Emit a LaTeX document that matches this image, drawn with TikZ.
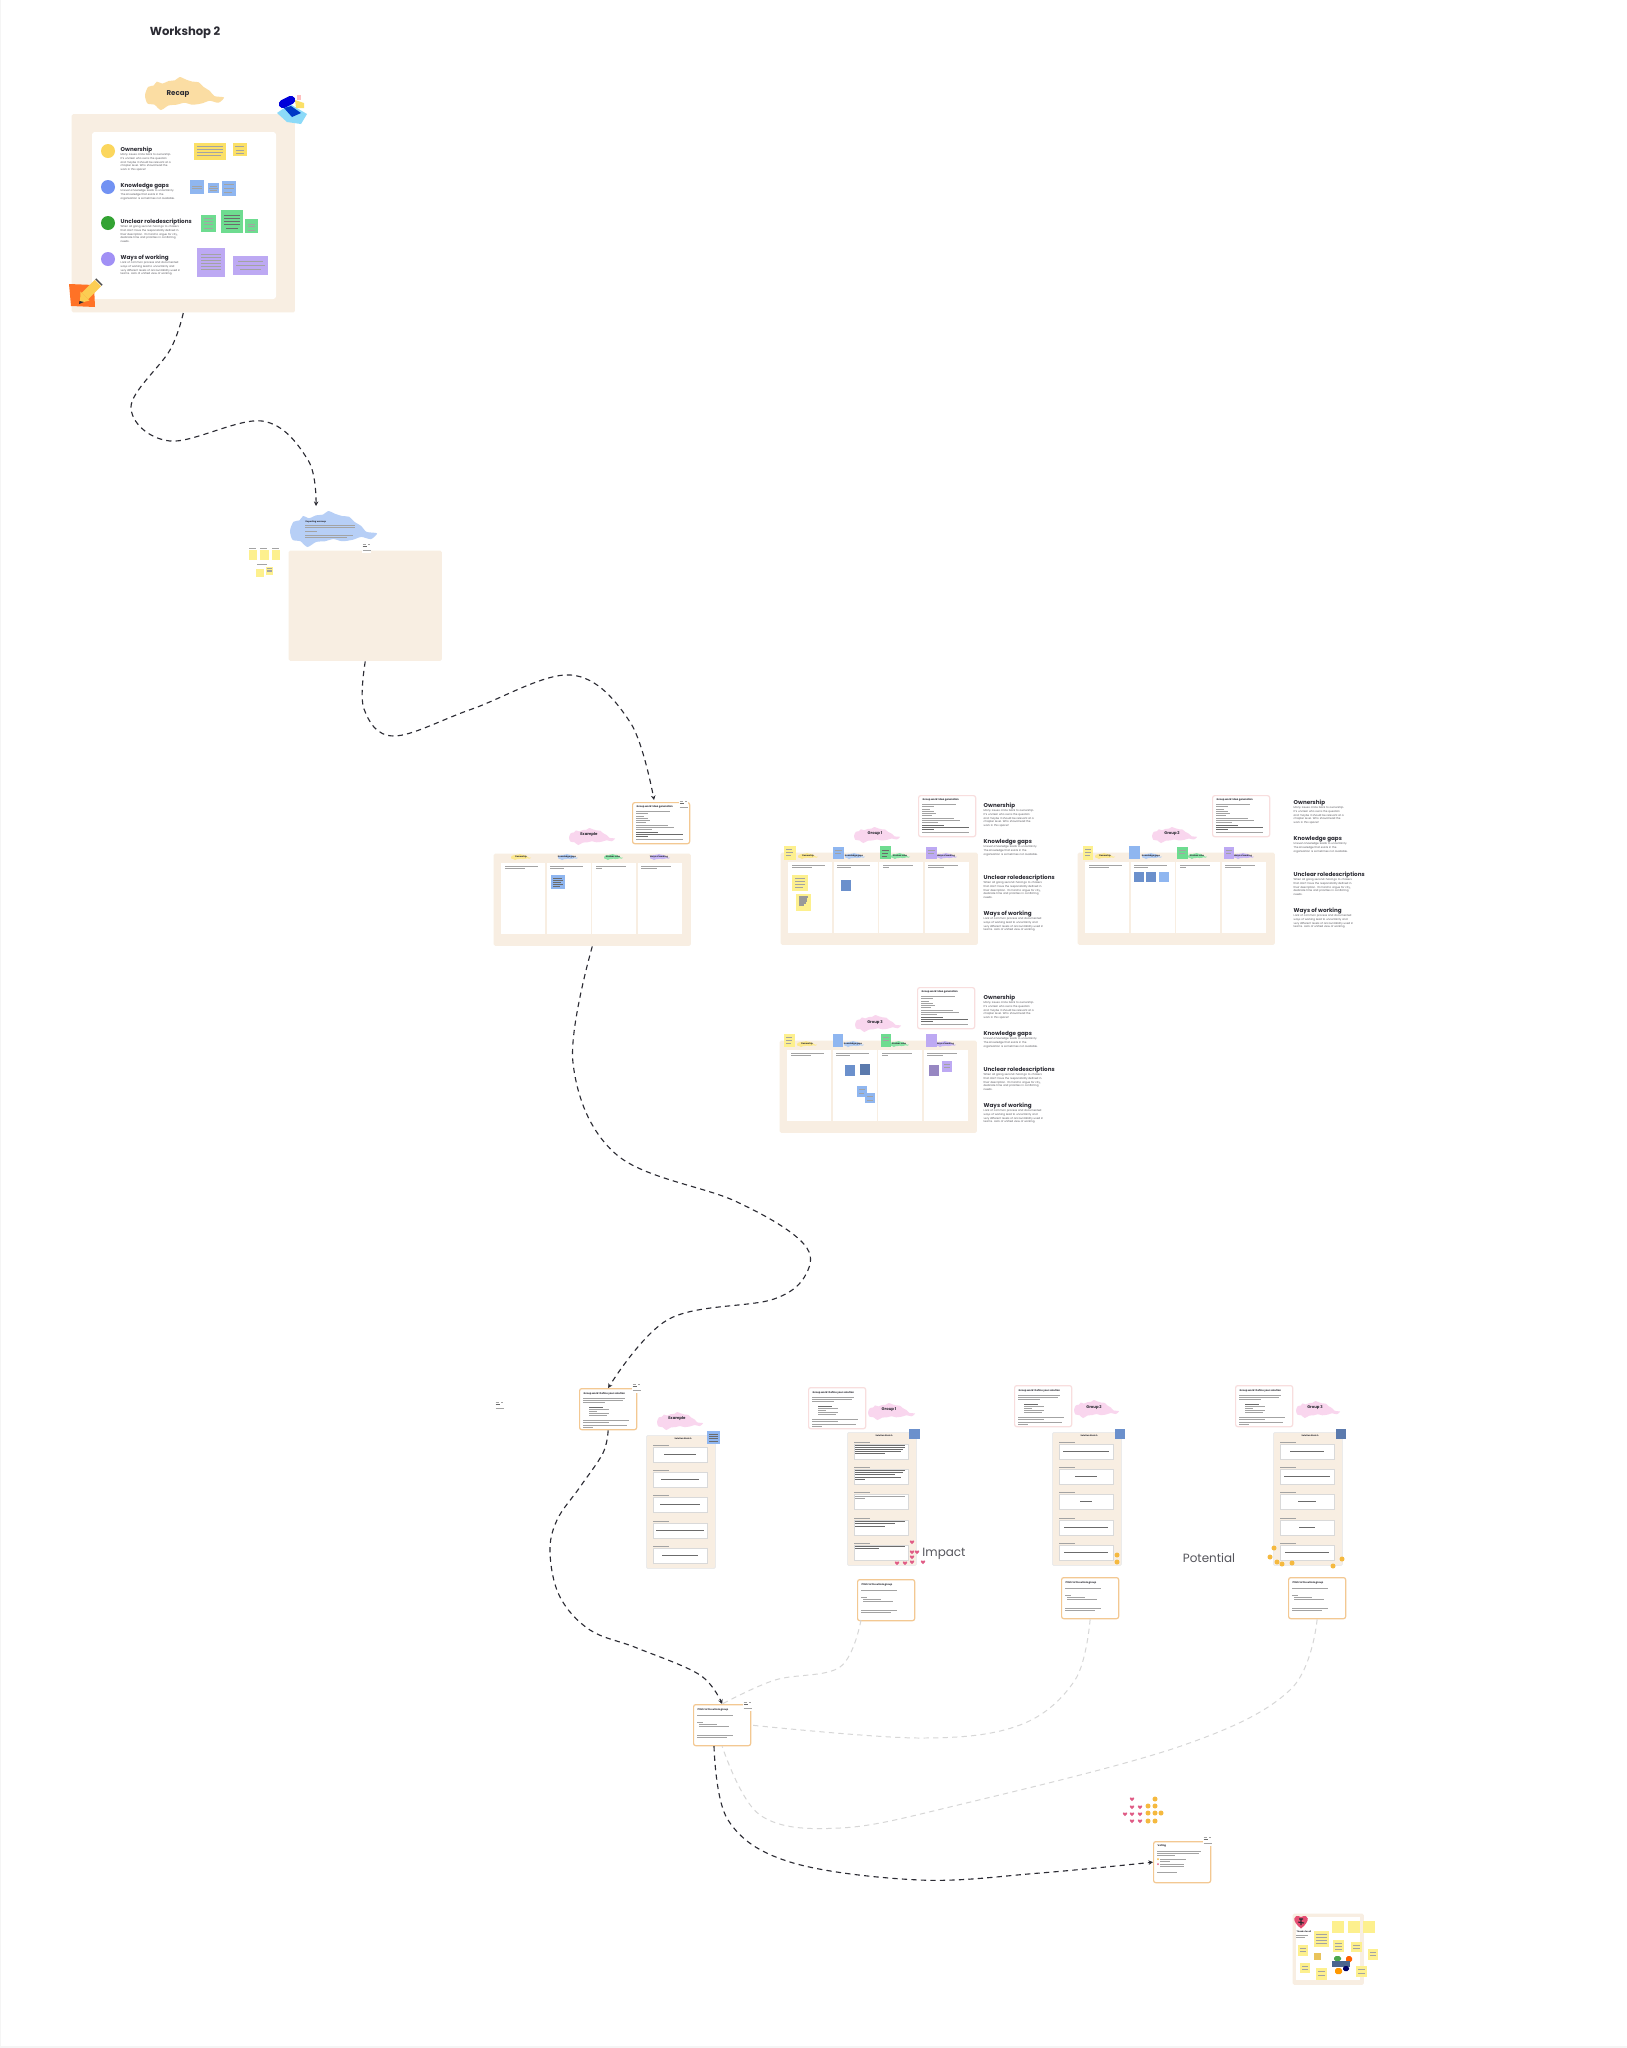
\documentclass[tikz,border=0pt]{standalone}
\usepackage{fontspec}
\setmainfont{Poppins}
\usetikzlibrary{arrows.meta}

\definecolor{framecream}{HTML}{F8EEE2}
\definecolor{recapblob}{HTML}{FBDDA3}
\definecolor{skyblob}{HTML}{B7CFF6}
\definecolor{pinkblob}{HTML}{F9D6EE}
\definecolor{inkdark}{HTML}{2B2B33}
\definecolor{inkgrey}{HTML}{55555C}
\definecolor{stickyyellow}{HTML}{FDF08E}
\definecolor{recapyellow}{HTML}{FBE067}
\definecolor{stickyblue}{HTML}{8FB6F0}
\definecolor{stickygreen}{HTML}{6EDC90}
\definecolor{stickypurple}{HTML}{BDA9F3}
\definecolor{darkblue}{HTML}{6B90CC}
\definecolor{cardorange}{HTML}{F3C892}
\definecolor{cardpink}{HTML}{F8DEDE}
\definecolor{heartred}{HTML}{E05C86}
\definecolor{stargold}{HTML}{F5B93F}

\tikzset{
	framebox/.style={anchor=north west, inner sep=0pt, fill=framecream, rounded corners=0.4pt},
	notecard/.style={anchor=north west, inner sep=0pt, fill=white, line width=0.35pt, rounded corners=0.6pt, minimum width=0.57cm, minimum height=0.41cm},
	headtext/.style={font=\bfseries\fontsize{1.6pt}{1.9pt}\selectfont, anchor=west, inner sep=0pt, text=inkdark},
	bodytext/.style={font=\fontsize{0.75pt}{1.05pt}\selectfont, anchor=north west, inner sep=0pt, text width=0.85cm, align=left, text=inkgrey},
	cardtitle/.style={font=\bfseries\fontsize{0.7pt}{0.9pt}\selectfont, anchor=west, inner sep=0pt, text=inkdark},
	blobtext/.style={font=\bfseries\fontsize{2pt}{2.4pt}\selectfont, inner sep=0pt, text=inkdark},
	labeltext/.style={font=\bfseries\fontsize{0.6pt}{0.7pt}\selectfont, inner sep=0pt, text=inkdark},
	bigword/.style={font=\fontsize{3.4pt}{4pt}\selectfont, inner sep=0pt, text=inkgrey},
	barline/.style={line width=0.2pt, color=black!36},
	boldbar/.style={line width=0.24pt, color=black!58},
	flowdash/.style={line width=0.32pt, color=inkdark, dash pattern=on 1.5pt off 1.2pt},
	paledash/.style={line width=0.28pt, color=black!16, dash pattern=on 1.5pt off 1.2pt},
	flowtip/.style={-{Stealth[length=1.3pt,width=1.3pt]}},
}

% brush shape, top left corner and size
\def\brushblob[#1](#2,#3)(#4,#5){\begin{scope}[shift={(#2,#3)},xscale=#4,yscale=#5]
	\fill[#1] plot[smooth cycle,tension=0.45] coordinates {(0,0.55) (0.04,0.3) (0.11,0.26) (0.15,0.14) (0.22,0.2) (0.3,0.12) (0.38,0.1) (0.44,0) (0.52,0.08) (0.6,0.14) (0.68,0.16) (0.74,0.3) (0.82,0.42) (0.88,0.58) (1,0.62) (0.93,0.78) (0.82,0.72) (0.72,0.8) (0.6,0.84) (0.5,0.78) (0.4,0.84) (0.3,0.86) (0.2,1) (0.12,0.84) (0.03,0.8)};
	\end{scope}}

\def\sticky[#1](#2,#3)(#4,#5){\fill[#1] (#2,#3) rectangle (#4,#5);}
\def\heartmark(#1,#2){\fill[heartred] (#1,#2+2.2) .. controls (#1-3.6,#2-0.4) and (#1-2.2,#2-2.6) .. (#1,#2-1) .. controls (#1+2.2,#2-2.6) and (#1+3.6,#2-0.4) .. (#1,#2+2.2);}
\def\starmark(#1,#2){\fill[stargold] (#1,#2) circle (2.5);}

% the four headings with their paragraphs
\def\sideblock(#1,#2)(#3){%
	\node[headtext] (#3-own) at (#1,#2) {Ownership};
	\node[bodytext] (#3-ownt) at (#1,#2+3) {Many issues circle back to ownership.\\It's unclear who owns the question\\and maybe it should be relevant at a\\chapter level. Who should lead the\\work in this space?};
	\node[headtext] (#3-gap) at (#1,#2+36) {Knowledge gaps};
	\node[bodytext] (#3-gapt) at (#1,#2+39) {Uneven knowledge leads to uncertainty.\\The knowledge that exists in the\\organization is sometimes not available.};
	\node[headtext] (#3-rol) at (#1,#2+72) {Unclear roledescriptions};
	\node[bodytext] (#3-rolt) at (#1,#2+75) {When all going second-hand go to chasers\\that don't have the responsibility defined in\\their description. It's hard to argue for city,\\dedicate time and priorities in conflicting\\needs.};
	\node[headtext] (#3-way) at (#1,#2+108) {Ways of working};
	\node[bodytext] (#3-wayt) at (#1,#2+111) {Lack of common process and documented\\ways of working lead to uncertainty and\\very different levels of accountability used in\\teams. Lack of unified view of working.};
}

\def\ideaboard(#1,#2)(#3){%
	\node[framebox,minimum width=1.97cm,minimum height=0.92cm] (#3) at (#1,#2) {};
	\fill[white] (#1+8,#2+10) rectangle +(44,71);
	\fill[white] (#1+53.5,#2+10) rectangle +(44,71);
	\fill[white] (#1+99,#2+10) rectangle +(44,71);
	\fill[white] (#1+144.5,#2+10) rectangle +(44,71);
	\draw[barline] (#1+12,#2+13.5) -- +(33,0) (#1+12,#2+15.5) -- +(20,0);
	\draw[barline] (#1+57,#2+13.5) -- +(33,0) (#1+57,#2+15.5) -- +(14,0);
	\draw[barline] (#1+103,#2+13.5) -- +(30,0) (#1+103,#2+15.5) -- +(6,0);
	\draw[barline] (#1+148,#2+13.5) -- +(30,0) (#1+148,#2+15.5) -- +(16,0);
	\brushblob[fill=recapyellow!75](#1+18,#2+1)(20,6)
	\brushblob[fill=stickyblue!70](#1+65,#2+1)(20,6)
	\brushblob[fill=stickygreen!80](#1+111,#2+1)(19,6)
	\brushblob[fill=stickypurple!85](#1+157,#2+1)(20,6)
	\node[labeltext] (#3-a) at (#1+28,#2+4) {Ownership};
	\node[labeltext] (#3-b) at (#1+74,#2+4) {Knowledge gaps};
	\node[labeltext] (#3-c) at (#1+120,#2+4) {Unclear roles};
	\node[labeltext] (#3-d) at (#1+166,#2+4) {Ways of working};
}

\def\ideacard(#1,#2)(#3)[#4]{%
	\node[notecard,draw=#4] (#3) at (#1,#2) {};
	\node[cardtitle] (#3-t) at (#1+4,#2+5) {Group work: idea generation};
	\draw[barline] (#1+4,#2+9) -- +(34,0) (#1+4,#2+11) -- +(12,0) (#1+4,#2+14) -- +(8,0) (#1+4,#2+16) -- +(12,0) (#1+4,#2+18) -- +(14,0) (#1+4,#2+20) -- +(10,0);
	\draw[barline] (#1+4,#2+23) -- +(32,0) (#1+4,#2+25) -- +(38,0) (#1+4,#2+27) -- +(16,0);
	\draw[boldbar] (#1+4,#2+30) -- +(22,0) (#1+4,#2+32) -- +(47,0) (#1+4,#2+34) -- +(12,0);
	\draw[barline] (#1+4,#2+37) -- +(47,0);
}

\def\solvecard(#1,#2)(#3)[#4]{%
	\node[notecard,draw=#4] (#3) at (#1,#2) {};
	\node[cardtitle] (#3-t) at (#1+4,#2+5.5) {Group work: Define your solution};
	\draw[barline] (#1+4,#2+10) -- +(42,0) (#1+4,#2+12) -- +(40,0) (#1+4,#2+14) -- +(22,0);
	\draw[boldbar] (#1+10,#2+19) -- +(14,0);
	\draw[barline] (#1+10,#2+21) -- +(20,0) (#1+10,#2+23) -- +(8,0) (#1+10,#2+25) -- +(20,0) (#1+10,#2+27) -- +(18,0);
	\draw[barline] (#1+4,#2+32) -- +(46,0) (#1+4,#2+34) -- +(26,0) (#1+4,#2+37) -- +(44,0) (#1+4,#2+39) -- +(10,0);
}

\def\pitchcard(#1,#2)(#3){%
	\node[notecard,draw=cardorange] (#3) at (#1,#2) {};
	\node[cardtitle] (#3-t) at (#1+4,#2+5.5) {Pitch to the whole group};
	\draw[barline] (#1+4,#2+11.5) -- +(36,0) (#1+4,#2+18) -- +(6,0) (#1+6,#2+20) -- +(18,0) (#1+6,#2+22) -- +(30,0);
	\draw[barline] (#1+4,#2+31) -- +(36,0) (#1+4,#2+33) -- +(30,0);
}

% sheet with its five empty boxes
\def\solutionsheet(#1,#2)(#3){%
	\node[framebox,draw=black!8,line width=0.25pt,minimum width=0.69cm,minimum height=1.33cm] (#3) at (#1,#2) {};
	\node[font=\bfseries\fontsize{0.6pt}{0.7pt}\selectfont,inner sep=0pt,text=inkdark] (#3-t) at (#1+37,#2+4) {Solution Sketch};
	\draw[fill=white,draw=black!15,line width=0.2pt] (#1+7,#2+12) rectangle +(54.5,15);
	\draw[fill=white,draw=black!15,line width=0.2pt] (#1+7,#2+37) rectangle +(54.5,15);
	\draw[fill=white,draw=black!15,line width=0.2pt] (#1+7,#2+62) rectangle +(54.5,15.5);
	\draw[fill=white,draw=black!15,line width=0.2pt] (#1+7,#2+88) rectangle +(54.5,15);
	\draw[fill=white,draw=black!15,line width=0.2pt] (#1+7,#2+113) rectangle +(54.5,15);
	\draw[barline,line width=0.15pt] (#1+7,#2+10) -- +(16,0) (#1+7,#2+35) -- +(16,0) (#1+7,#2+60) -- +(16,0) (#1+7,#2+86) -- +(16,0) (#1+7,#2+111) -- +(16,0);
}
\def\sheetbars(#1,#2)(#3,#4,#5,#6,#7){%
	\draw[boldbar] (#1+34.25-#3/2,#2+19) -- +(#3,0) (#1+34.25-#4/2,#2+44) -- +(#4,0) (#1+34.25-#5/2,#2+69) -- +(#5,0) (#1+34.25-#6/2,#2+95) -- +(#6,0) (#1+34.25-#7/2,#2+120) -- +(#7,0);
}
% small white tag next to a card
\def\tagnote(#1,#2){\fill[white] (#1,#2) rectangle +(9,10);
	\draw[barline,line width=0.12pt] (#1+0.5,#2+1) -- +(3,0) (#1+6,#2+1) -- +(2,0) (#1+0.5,#2+7.5) -- +(8,0);
	\draw[boldbar] (#1+0.5,#2+3.5) -- +(4,0);}

\begin{document}
\begin{tikzpicture}[x=0.01cm,y=-0.01cm]
		%%%%% START %%%%%
		\useasboundingbox (0,0) rectangle (1627,2048);
		\fill[white] (0,0) rectangle (1627,2048);
		\fill[color=black!4] (0,2046) rectangle (1627,2048);
		\fill[color=black!4] (0,0) rectangle (1,2048);
		
		\node[font=\bfseries\fontsize{3.3pt}{4pt}\selectfont,inner sep=0pt,text=inkdark] (title) at (185,33) {Workshop 2};
		
		% recap
		\brushblob[fill=recapblob](145,77)(79,33)
		\node[blobtext] (recaplabel) at (178,93.5) {Recap};
		\node[framebox,minimum width=2.23cm,minimum height=1.98cm] (recapframe) at (71,113.5) {};
		\fill[white,rounded corners=0.8pt] (92,132) rectangle (276,299);
		\fill[color=recapyellow!90!orange] (108,151) circle (7);
		\fill[color=stickyblue!80!blue] (108,187) circle (7);
		\fill[color=green!55!black!80!white] (108,223) circle (7);
		\fill[color=stickypurple!85!blue] (108,259) circle (7);
		\sideblock(120,150)(recap)
		
		\sticky[recapyellow](194,143)(226,160)
		\draw[barline] (197,146) -- +(26,0) (197,149) -- +(26,0) (197,152) -- +(26,0) (197,155) -- +(24,0);
		\sticky[recapyellow](233,143)(247,156)
		\draw[barline] (235,146) -- +(9,0) (236,150) -- +(8,0) (236,153) -- +(8,0);
		\sticky[stickyblue](190,180)(204,194)
		\draw[barline] (192,186) -- +(10,0) (192,188) -- +(10,0);
		\sticky[stickyblue](208,183)(219,193)
		\draw[barline] (210,186) -- +(7,0) (209,188) -- +(9,0) (210,190) -- +(7,0);
		\sticky[stickyblue](222,181)(236,196)
		\draw[barline] (224,184) -- +(10,0) (224,188) -- +(10,0) (224,192) -- +(8,0);
		\sticky[stickygreen](201,215)(216,232)
		\draw[barline] (204,218) -- +(9,0) (204,221) -- +(9,0) (204,224) -- +(9,0) (204,228) -- +(9,0);
		\sticky[stickygreen](221,210)(243,233)
		\draw[boldbar] (224,215) -- +(16,0) (224,218) -- +(16,0) (224,221) -- +(16,0) (224,224) -- +(16,0) (226,228) -- +(12,0);
		\sticky[stickygreen](245,219)(258,233)
		\draw[barline] (248,224) -- +(7,0) (248,226) -- +(7,0) (248,230) -- +(7,0);
		\sticky[stickypurple](197,248)(225,277)
		\draw[barline] (201,254) -- +(20,0) (201,257) -- +(20,0) (201,260) -- +(20,0) (201,263) -- +(20,0) (201,266) -- +(20,0) (201,269) -- +(20,0);
		\sticky[stickypurple](233,256)(268,275)
		\draw[barline] (238,261) -- +(25,0) (236,265) -- +(29,0) (240,269) -- +(21,0);
		
		% pencil and toolbox stickers
		\fill[color=orange!70!red!85!white] (69,284) -- (94,285) -- (95,307) -- (71,306) -- cycle;
		\draw[line width=2.6pt,color=recapyellow!80!orange] (85,296) -- (98,283);
		\draw[line width=2.6pt,color=black!70] (98.4,282.6) -- (99.4,281.6);
		\fill[color=recapyellow!80!orange] (80.5,291.5) -- (89.5,300.5) -- (80,303) -- cycle;
		\fill[color=inkdark] (79.5,301) -- (84,302) -- (79,304) -- cycle;
		\fill[color=cyan!45!white] (277,113) -- (290,104) -- (307,114) -- (301,124) -- (287,122) -- cycle;
		\fill[color=teal!45!blue] (284,108) -- (291,106) -- (301,113) -- (292,117) -- cycle;
		\fill[color=recapyellow] (295,100) -- (304,103) -- (304,108) -- (296,108) -- cycle;
		\fill[color=pink] (297,95) rectangle (301,100);
		\draw[line width=2.4pt,line cap=round,color=blue!85!black] (283,104) -- (291,100);
		
		% warm up
		\brushblob[fill=skyblob](290,511)(87,36)
		\coordinate (warmupin) at (316,506);
		\node[font=\bfseries\fontsize{0.6pt}{0.7pt}\selectfont,anchor=west,inner sep=0pt,text=inkdark] (warmuplabel) at (305,522) {Reporting warmup};
		\draw[barline] (305,525) -- +(50,0) (305,527) -- +(50,0) (305,531.5) -- +(12,0) (305,535) -- +(48,0) (305,537) -- +(42,0);
		\node[framebox,minimum width=1.53cm,minimum height=1.1cm] (warmupframe) at (288,550) {};
		\tagnote(362,543)
		\sticky[stickyyellow](249,550)(257,560)
		\sticky[stickyyellow](260,550)(269,560)
		\sticky[stickyyellow](272,550)(280,560)
		\sticky[stickyyellow](256,569)(264,577)
		\sticky[stickyyellow](266,567)(273,575)
		\draw[barline,line width=0.12pt] (249,548) -- +(7,0) (260,548) -- +(7,0) (272,548) -- +(7,0) (257,564) -- +(10,0);
		\draw[barline,line width=0.15pt] (267,568.5) -- +(5,0) (267,570) -- +(5,0) (267,571.5) -- +(5,0);
		
		% idea generation boards
		\ideacard(632,802)(exideacard)[cardorange]
		\coordinate (exideain) at (654,800);
		\tagnote(679,800)
		\brushblob[fill=pinkblob](569,828)(46,17)
		\node[blobtext,font=\bfseries\fontsize{1.1pt}{1.3pt}\selectfont] (exlabel) at (589,835) {Example};
		\ideaboard(493,853)(exboard)
		\sticky[stickyblue](551,875)(565,889)
		\draw[boldbar] (553,878) -- +(9,0) (553,880) -- +(10,0) (553,882) -- +(8,0) (553,884) -- +(10,0) (553,886) -- +(7,0);
		
		\ideacard(918,795)(gaideacard)[cardpink]
		\brushblob[fill=pinkblob](854,827)(46,16)
		\node[blobtext,font=\bfseries\fontsize{1.1pt}{1.3pt}\selectfont] (galabel) at (875,834) {Group 1};
		\ideaboard(780,852)(gaboard)
		\sideblock(983,806)(gaside)
		\sticky[stickyyellow](784,846)(796,860)
		\sticky[stickyblue](833,847)(844,859)
		\sticky[stickygreen](880,846)(891,859)
		\sticky[stickypurple](926,847)(937,859)
		\draw[barline] (786,849) -- +(6,0) (786,852) -- +(7,0) (786,855) -- +(5,0);
		\draw[barline] (835,850) -- +(7,0) (835,853) -- +(6,0);
		\draw[boldbar] (882,850) -- +(7,0) (882,853) -- +(6,0) (882,856) -- +(5,0);
		\draw[barline] (928,850) -- +(7,0) (928,853) -- +(6,0);
		\sticky[stickyyellow](792,875)(808,891)
		\draw[barline] (795,878) -- +(10,0) (795,881) -- +(10,0) (795,884) -- +(10,0) (795,887) -- +(8,0);
		\sticky[stickyyellow](796,894)(811,911)
		\draw[boldbar,line width=0.5pt,color=black!40] (799,897) -- +(9,0) (799,899) -- +(8,0) (799,901) -- +(8,0) (799,903) -- +(7,0) (799,905) -- +(5,0);
		\sticky[darkblue](841,880)(851,891)
		
		\ideacard(1212,795)(gbideacard)[cardpink]
		\brushblob[fill=pinkblob](1152,827)(45,16)
		\node[blobtext,font=\bfseries\fontsize{1.1pt}{1.3pt}\selectfont] (gblabel) at (1172,834) {Group 2};
		\ideaboard(1077,852)(gbboard)
		\sideblock(1293,803)(gbside)
		\sticky[stickyyellow](1083,846)(1093,860)
		\sticky[stickyblue](1129,846)(1140,859)
		\sticky[stickygreen](1177,847)(1188,859)
		\sticky[stickypurple](1224,847)(1234,859)
		\draw[barline] (1085,849) -- +(6,0) (1085,852) -- +(6,0) (1085,855) -- +(5,0);
		\draw[barline] (1179,850) -- +(7,0) (1179,853) -- +(6,0);
		\draw[barline] (1226,850) -- +(6,0) (1226,853) -- +(5,0);
		\sticky[darkblue](1134,872)(1144,882)
		\sticky[darkblue](1146,872)(1156,882)
		\sticky[stickyblue](1159,872)(1169,882)
		
		\ideacard(917,987)(gcideacard)[cardpink]
		\brushblob[fill=pinkblob](855,1015)(46,17)
		\node[blobtext,font=\bfseries\fontsize{1.1pt}{1.3pt}\selectfont] (gclabel) at (875,1023) {Group 3};
		\ideaboard(779,1040)(gcboard)
		\sideblock(983,998)(gcside)
		\sticky[stickyyellow](784,1034)(795,1047)
		\sticky[stickyblue](833,1034)(843,1047)
		\sticky[stickygreen](881,1034)(891,1047)
		\sticky[stickypurple](926,1034)(937,1047)
		\draw[barline] (786,1037) -- +(6,0) (786,1040) -- +(6,0) (786,1043) -- +(5,0);
		\draw[barline] (883,1037) -- +(6,0) (883,1040) -- +(6,0);
		\sticky[darkblue](845,1065)(855,1076)
		\sticky[darkblue!85!black](860,1064)(870,1075)
		\sticky[stickyblue](857,1086)(867,1097)
		\sticky[stickyblue](865,1093)(875,1103)
		\sticky[stickypurple!80!black](929,1065)(939,1076)
		\sticky[stickypurple](942,1061)(952,1072)
		\draw[barline] (859,1089) -- +(6,0) (859,1093) -- +(5,0) (867,1096) -- +(6,0) (867,1100) -- +(6,0);
		\draw[barline] (944,1064) -- +(6,0) (944,1067) -- +(6,0);
		
		% solution sheets
		\solvecard(579,1388)(exsolvecard)[cardorange]
		\tagnote(632,1383)
		\tagnote(495,1401)
		\brushblob[fill=pinkblob](657,1412)(46,18)
		\node[blobtext,font=\bfseries\fontsize{1.1pt}{1.3pt}\selectfont] (exsolvelabel) at (677,1419) {Example};
		\solutionsheet(646,1435)(exsheet)
		\sheetbars(646,1435)(32,38,40,48,36)
		\sticky[stickyblue](707,1431)(720,1444)
		\draw[boldbar] (709,1434) -- +(9,0) (709,1436) -- +(9,0) (709,1438) -- +(9,0) (709,1441) -- +(9,0);
		
		\solvecard(808,1387)(gasolvecard)[cardpink]
		\brushblob[fill=pinkblob](868,1403)(47,17)
		\node[blobtext,font=\bfseries\fontsize{1.1pt}{1.3pt}\selectfont] (gasolvelabel) at (889,1410) {Group 1};
		\solutionsheet(847,1432)(gasheet)
		\draw[boldbar] (855,1445) -- +(50,0) (855,1447) -- +(50,0) (855,1449) -- +(48,0) (855,1451) -- +(46,0) (855,1453) -- +(30,0);
		\draw[boldbar] (855,1470) -- +(50,0) (855,1472) -- +(48,0) (855,1474) -- +(40,0) (855,1477) -- +(46,0) (855,1479) -- +(10,0);
		\draw[barline] (855,1496) -- +(50,0) (855,1498) -- +(10,0);
		\draw[boldbar] (855,1521) -- +(50,0) (855,1523) -- +(40,0) (855,1526) -- +(30,0);
		\draw[boldbar] (855,1546) -- +(50,0) (855,1548) -- +(24,0);
		\sticky[darkblue](909,1429)(920,1439)
		\heartmark(912,1542)
		\heartmark(912,1552)
		\heartmark(917,1552)
		\heartmark(912,1557)
		\heartmark(912,1562)
		\heartmark(905,1563)
		\heartmark(897,1563)
		\heartmark(923,1562)
		\node[bigword] (impactlabel) at (944,1554) {Impact};
		\pitchcard(857,1579)(gapitch)
		
		\solvecard(1014,1385)(gbsolvecard)[cardpink]
		\brushblob[fill=pinkblob](1074,1400)(45,18)
		\node[blobtext,font=\bfseries\fontsize{1.1pt}{1.3pt}\selectfont] (gbsolvelabel) at (1094,1408) {Group 2};
		\solutionsheet(1052,1432)(gbsheet)
		\sheetbars(1052,1432)(46,22,12,44,44)
		\sticky[darkblue](1115,1429)(1125,1439)
		\starmark(1117,1555)
		\starmark(1117,1562)
		\node[bigword] (potentiallabel) at (1209,1558) {Potential};
		\pitchcard(1061,1577)(gbpitch)
		
		\solvecard(1235,1385)(gcsolvecard)[cardpink]
		\brushblob[fill=pinkblob](1296,1401)(44,17)
		\node[blobtext,font=\bfseries\fontsize{1.1pt}{1.3pt}\selectfont] (gcsolvelabel) at (1315,1408) {Group 3};
		\solutionsheet(1273,1432)(gcsheet)
		\sheetbars(1273,1432)(34,46,18,16,44)
		\sticky[darkblue!85!black](1336,1429)(1346,1439)
		\starmark(1274,1548)
		\starmark(1270,1557)
		\starmark(1277,1562)
		\starmark(1282,1564)
		\starmark(1292,1563)
		\starmark(1333,1566)
		\starmark(1342,1559)
		\pitchcard(1288,1577)(gcpitch)
		
		% whole group
		\pitchcard(693,1704)(allpitch)
		\tagnote(743,1701)
		
		% voting
		\node[notecard,draw=cardorange] (votecard) at (1153,1841) {};
		\node[cardtitle] (votetitle) at (1157,1846) {Voting};
		\draw[barline] (1157,1851) -- +(44,0) (1157,1853) -- +(42,0) (1157,1855) -- +(18,0) (1160,1859) -- +(26,0) (1160,1861) -- +(10,0) (1160,1864) -- +(24,0) (1160,1866) -- +(24,0) (1157,1872) -- +(20,0);
		\fill[color=stargold] (1158,1859) circle (1);
		\fill[color=heartred] (1158,1864) circle (1);
		\tagnote(1203,1836)
		\heartmark(1132,1799)
		\heartmark(1132,1807)
		\heartmark(1140,1807)
		\heartmark(1125,1814)
		\heartmark(1132,1814)
		\heartmark(1140,1814)
		\heartmark(1132,1821)
		\heartmark(1140,1821)
		\starmark(1155,1799)
		\starmark(1148,1806)
		\starmark(1155,1806)
		\starmark(1148,1813)
		\starmark(1155,1813)
		\starmark(1161,1813)
		\starmark(1148,1821)
		\starmark(1155,1821)
		
		% closing board
		\node[framebox,minimum width=0.71cm,minimum height=0.71cm] (closeframe) at (1292,1913) {};
		\fill[white] (1296,1917) rectangle (1360,1980);
		\sticky[stickyyellow](1332,1921)(1344,1933)
		\sticky[stickyyellow](1348,1921)(1360,1933)
		\sticky[stickyyellow](1363,1921)(1375,1933)
		\sticky[stickyyellow](1314,1931)(1329,1947)
		\sticky[stickyyellow](1298,1945)(1308,1956)
		\sticky[stickyyellow](1333,1940)(1344,1952)
		\sticky[stickyyellow](1351,1942)(1362,1952)
		\sticky[stickyyellow](1368,1949)(1378,1960)
		\sticky[recapyellow!70!brown](1314,1953)(1321,1960)
		\sticky[stickyyellow](1300,1963)(1310,1973)
		\sticky[stickyyellow](1316,1968)(1327,1980)
		\sticky[stickyyellow](1356,1966)(1367,1977)
		\draw[barline] (1316,1934) -- +(11,0) (1316,1937) -- +(11,0) (1316,1940) -- +(11,0) (1316,1943) -- +(11,0);
		\draw[barline] (1300,1948) -- +(6,0) (1300,1951) -- +(6,0) (1335,1943) -- +(7,0) (1335,1946) -- +(7,0) (1335,1949) -- +(7,0);
		\draw[barline] (1353,1945) -- +(7,0) (1353,1948) -- +(7,0) (1370,1952) -- +(6,0) (1370,1955) -- +(6,0);
		\draw[barline] (1302,1966) -- +(6,0) (1302,1969) -- +(6,0) (1318,1971) -- +(7,0) (1318,1975) -- +(7,0) (1358,1969) -- +(7,0) (1358,1973) -- +(7,0);
		\fill[color=green!50!black!70!white,rounded corners=0.5pt] (1334,1956) rectangle (1341,1961);
		\fill[color=orange!75!red,rounded corners=0.5pt] (1346,1956) rectangle (1352,1962);
		\fill[color=darkblue!70!black] (1332,1961) rectangle (1350,1967);
		\fill[color=blue!40!black,rounded corners=0.5pt] (1343,1966) rectangle (1349,1971);
		\fill[color=orange!80!yellow,rounded corners=0.5pt] (1335,1968) rectangle (1342,1974);
		\fill[color=heartred!85!red] (1301,1928.5) .. controls (1291,1921) and (1293,1913) .. (1301,1917) .. controls (1309,1913) and (1311,1921) .. (1301,1928.5);
		\draw[line width=0.3pt,color=inkdark] (1299,1919) -- (1303,1919) (1301,1919) -- (1301,1925) (1298,1922) -- (1304,1923);
		\node[font=\bfseries\fontsize{0.6pt}{0.7pt}\selectfont,anchor=west,inner sep=0pt,text=inkdark] (closelabel) at (1296,1932) {Thanks for all};
		\draw[barline,line width=0.15pt] (1296,1935) -- +(12,0) (1296,1937) -- +(9,0);
		
		% connectors
		\draw[flowdash,flowtip] plot[smooth,tension=0.6] coordinates {(recapframe.south) (170,350) (131,407) (170,441) (262,421) (308,460) (warmupin)};
		\draw[flowdash,flowtip] plot[smooth,tension=0.6] coordinates {(warmupframe.south) (364,709) (394,736) (472,709) (571,675) (630,722) (exideain)};
		\draw[flowdash,flowtip] plot[smooth,tension=0.6] coordinates {(exboard.south) (573,1063) (617,1155) (735,1201) (800,1240) (808,1270) (774,1299) (669,1319) (exsolvecard.north)};
		\coordinate (alldark) at (714,1746);
		\coordinate (gaout) at (861,1620);
		\draw[flowdash,flowtip] plot[smooth,tension=0.6] coordinates {(exsolvecard.south) (603,1453) (580,1487) (557,1520) (550,1553) (560,1597) (590,1630) (637,1648) (700,1675) (allpitch.north)};
		\draw[paledash] plot[smooth,tension=0.6] coordinates {(gaout) (840,1667) (775,1680) (allpitch.north)};
		\draw[paledash] plot[smooth,tension=0.6] coordinates {(gbpitch.south) (1075,1680) (1020,1725) (920,1738) (allpitch.east)};
		\draw[paledash] plot[smooth,tension=0.6] coordinates {(gcpitch.south) (1290,1690) (1181,1746) (958,1805) (840,1828) (760,1815) (allpitch.south)};
		\draw[flowdash,flowtip] plot[smooth,tension=0.6] coordinates {(alldark) (728,1820) (790,1862) (920,1880) (1040,1873) (votecard.west)};
		
		%%%%% END %%%%%
\end{tikzpicture}
\end{document}
